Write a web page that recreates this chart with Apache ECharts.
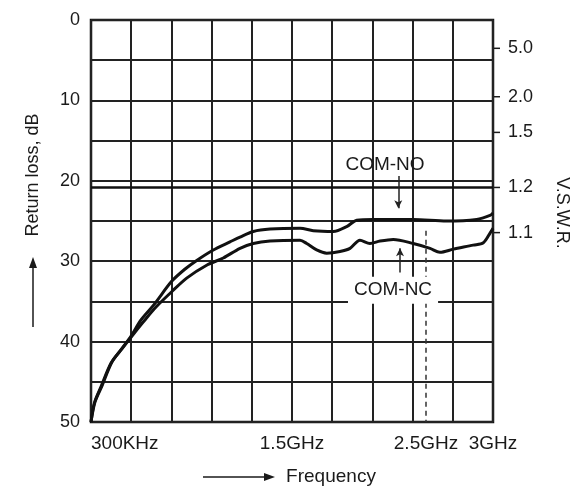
<!DOCTYPE html>
<html>
<head>
<meta charset="utf-8">
<script src="https://cdn.jsdelivr.net/npm/echarts@6/dist/echarts.min.js"></script>
<style>
  html, body { margin: 0; padding: 0; background: #fff; }
  #chart { width: 574px; height: 490px; }
</style>
</head>
<body>
<div id="chart"></div>
<script>
// frequency in MHz (linear axis, 0 = 300KHz), return loss in dB
const freqNO = [0, 26, 75, 149, 224, 299, 373, 470, 602, 700, 789, 913, 1037, 1112, 1211, 1336, 1560, 1659, 1808, 1908, 1983, 2107, 2231, 2405, 2654, 2878, 2978, 3000];
const lossNO = [50, 47.6, 45.6, 42.7, 41.0, 39.3, 37.3, 35.4, 32.5, 31.0, 29.9, 28.6, 27.6, 27.0, 26.3, 26.0, 25.9, 26.2, 26.3, 25.7, 24.9, 24.8, 24.8, 24.8, 25.0, 24.8, 24.3, 24.0];

const freqNC = [0, 30, 82, 157, 231, 306, 388, 485, 602, 714, 863, 987, 1112, 1211, 1336, 1560, 1610, 1684, 1759, 1858, 1933, 2007, 2082, 2157, 2256, 2405, 2530, 2604, 2704, 2853, 2928, 2978, 3000];
const lossNC = [50, 47.5, 45.5, 42.5, 40.9, 39.3, 37.6, 35.7, 33.8, 32.1, 30.5, 29.6, 28.4, 27.8, 27.5, 27.4, 27.8, 28.6, 29.0, 28.8, 28.4, 27.4, 27.8, 27.5, 27.3, 27.8, 28.4, 28.9, 28.5, 28.0, 27.7, 26.5, 25.9];

const freqTicks = [0, 1500, 2500, 3000];
const freqTickLabels = ['300KHz', '1.5GHz', '2.5GHz', '3GHz'];
const vswrTicks = [5.0, 2.0, 1.5, 1.2, 1.1];

const rlOf = s => 20 * Math.log10((s + 1) / (s - 1));
const vswrLoss = vswrTicks.map(rlOf);

const FONT = 'Liberation Sans, Arial, sans-serif';
const INK = '#1a1a1a';

var chartDom = document.getElementById('chart');
var myChart = echarts.init(chartDom);
var option;

option = {
    animation: false,
    grid: {
        left: 91, right: 81, top: 20, bottom: 68,
        outerBoundsMode: 'none',
        show: true,
        borderColor: '#111',
        borderWidth: 2.5
    },
    xAxis: [
        {
            type: 'value', min: 0, max: 3000, interval: 300,
            axisLine: { show: false },
            axisTick: { show: false },
            axisLabel: { show: false },
            splitLine: { show: true, lineStyle: { color: '#222', width: 2 } }
        },
        {
            type: 'value', min: 0, max: 3000, position: 'bottom',
            axisLine: { show: false },
            axisTick: { show: false },
            splitLine: { show: false },
            axisLabel: {
                customValues: freqTicks,
                alignMinLabel: 'left',
                margin: 12,
                fontSize: 19, fontFamily: FONT, color: INK,
                formatter: v => {
                    const i = freqTicks.indexOf(v);
                    return i >= 0 ? freqTickLabels[i] : '';
                }
            },
            name: 'Frequency',
            nameLocation: 'middle',
            nameGap: 45,
            nameTextStyle: { fontSize: 19, fontFamily: FONT, color: INK, padding: [0, 0, 0, 78] }
        }
    ],
    yAxis: [
        {
            type: 'value', min: 0, max: 50, interval: 5, inverse: true,
            axisLine: { show: false },
            axisTick: { show: false },
            splitLine: { show: true, lineStyle: { color: '#222', width: 2 } },
            axisLabel: {
                margin: 11,
                fontSize: 18, fontFamily: FONT, color: INK,
                formatter: v => (v % 10 === 0 ? String(v) : '')
            },
            name: 'Return loss, dB',
            nameLocation: 'middle',
            nameRotate: 90,
            nameGap: 49,
            nameTextStyle: { fontSize: 18, fontFamily: FONT, color: INK, padding: [0, 0, 0, 92] }
        },
        {
            type: 'value', min: 0, max: 50, inverse: true, position: 'right',
            axisLine: { show: false },
            splitLine: { show: false },
            axisTick: { show: false },
            axisLabel: {
                customValues: vswrLoss,
                margin: 1,
                fontSize: 18, fontFamily: FONT, color: INK,
                formatter: v => {
                    const i = vswrLoss.findIndex(r => Math.abs(r - v) < 0.01);
                    return i >= 0 ? '{tick|}{val|' + vswrTicks[i].toFixed(1) + '}' : '';
                },
                rich: {
                    tick: { width: 6, height: 1.5, backgroundColor: INK },
                    val: { fontSize: 18, fontFamily: FONT, color: INK, padding: [0, 0, 0, 8] }
                }
            },
            name: 'V.S.W.R.',
            nameLocation: 'middle',
            nameRotate: -90,
            nameGap: 60,
            nameTextStyle: { fontSize: 18, fontFamily: FONT, color: INK, padding: [0, 16, 0, 0] }
        }
    ],
    series: [
        {
            name: 'COM-NO',
            type: 'line',
            data: freqNO.map((f, i) => [f, lossNO[i]]),
            showSymbol: false,
            smooth: 0.3,
            lineStyle: { color: '#111', width: 3 },
            markLine: {
                silent: true,
                label: { show: false },
                data: [
                    [{ coord: [0, vswrLoss[3]], symbol: 'none' }, { coord: [3000, vswrLoss[3]], symbol: 'none', lineStyle: { color: '#111', width: 2.5, type: 'solid' } }],
                    [{ coord: [2500, 26.2], symbol: 'none' }, { coord: [2500, 50], symbol: 'none', lineStyle: { color: '#333', width: 1.5, type: [5, 4] } }],
                    [{ coord: [2293, 19.4], symbol: 'none' }, { coord: [2293, 23.4], symbol: 'arrow', symbolSize: [6, 8], lineStyle: { color: '#222', width: 1.5, type: 'solid' } }],
                    [{ coord: [2306, 31.4], symbol: 'none' }, { coord: [2306, 28.4], symbol: 'arrow', symbolSize: [6, 8], lineStyle: { color: '#222', width: 1.5, type: 'solid' } }]
                ]
            },
            markPoint: {
                silent: true,
                symbol: 'rect',
                symbolSize: 1,
                itemStyle: { color: 'rgba(0,0,0,0)' },
                label: {
                    show: true, position: 'inside', formatter: '{b}',
                    fontSize: 19, fontFamily: FONT, color: INK
                },
                data: [
                    { name: 'COM-NO', coord: [2194, 18.0] },
                    { name: 'COM-NC', coord: [2254, 33.6], label: { backgroundColor: '#fff', padding: [2, 6, 6, 6] } }
                ]
            }
        },
        {
            name: 'COM-NC',
            type: 'line',
            data: freqNC.map((f, i) => [f, lossNC[i]]),
            showSymbol: false,
            smooth: 0.3,
            lineStyle: { color: '#111', width: 3 }
        }
    ],
    graphic: [
        { type: 'line', shape: { x1: 33, y1: 327, x2: 33, y2: 266 }, style: { stroke: INK, lineWidth: 1.5 } },
        { type: 'polygon', shape: { points: [[33, 257], [29, 268], [37, 268]] }, style: { fill: INK } },
        { type: 'line', shape: { x1: 203, y1: 477, x2: 266, y2: 477 }, style: { stroke: INK, lineWidth: 1.5 } },
        { type: 'polygon', shape: { points: [[275, 477], [264, 473], [264, 481]] }, style: { fill: INK } }
    ]
};

option && myChart.setOption(option);
</script>
</body>
</html>
